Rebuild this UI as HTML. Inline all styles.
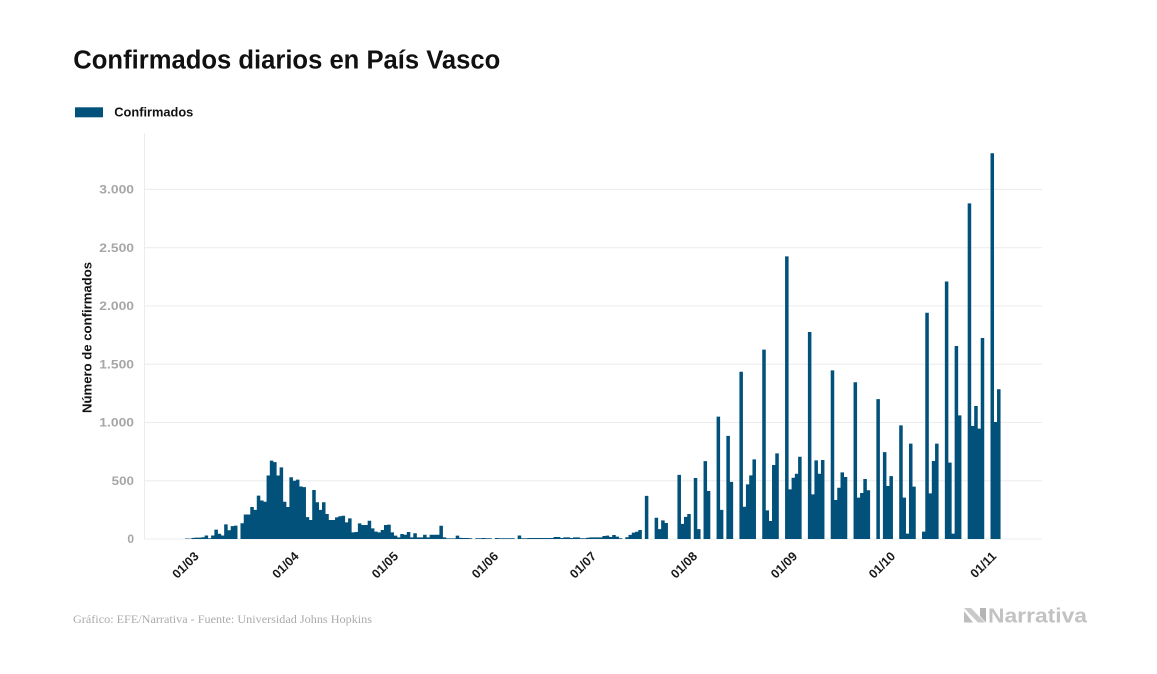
<!DOCTYPE html>
<html>
<head>
<meta charset="utf-8">
<style>
html,body{margin:0;padding:0;background:#fff;}
svg{display:block;}
</style>
</head>
<body>
<svg width="1157" height="674" viewBox="0 0 1157 674" xmlns="http://www.w3.org/2000/svg">
<rect x="0" y="0" width="1157" height="674" fill="#ffffff"/>
<text x="73.3" y="68.3" font-family="Liberation Sans, sans-serif" font-weight="bold" font-size="25.5" fill="#111" textLength="427" lengthAdjust="spacingAndGlyphs">Confirmados diarios en País Vasco</text>
<rect x="75" y="107.3" width="28" height="10" fill="#02517a"/>
<text x="114.3" y="116.3" font-family="Liberation Sans, sans-serif" font-weight="bold" font-size="12.5" fill="#111" textLength="79" lengthAdjust="spacingAndGlyphs">Confirmados</text>
<g stroke="#ececec" stroke-width="1">
<line x1="144" y1="189.4" x2="1042" y2="189.4"/>
<line x1="144" y1="247.7" x2="1042" y2="247.7"/>
<line x1="144" y1="305.9" x2="1042" y2="305.9"/>
<line x1="144" y1="364.2" x2="1042" y2="364.2"/>
<line x1="144" y1="422.5" x2="1042" y2="422.5"/>
<line x1="144" y1="480.7" x2="1042" y2="480.7"/>
<line x1="144" y1="539" x2="1042" y2="539"/>
<line x1="144.5" y1="133" x2="144.5" y2="539"/>
</g>
<g font-family="Liberation Sans, sans-serif" font-weight="bold" font-size="12" fill="#a6a6a6" text-anchor="end">
<text x="134" y="193.6" textLength="34.7" lengthAdjust="spacingAndGlyphs">3.000</text>
<text x="134" y="251.9" textLength="34.7" lengthAdjust="spacingAndGlyphs">2.500</text>
<text x="134" y="310.1" textLength="34.7" lengthAdjust="spacingAndGlyphs">2.000</text>
<text x="134" y="368.4" textLength="34.7" lengthAdjust="spacingAndGlyphs">1.500</text>
<text x="134" y="426.7" textLength="34.7" lengthAdjust="spacingAndGlyphs">1.000</text>
<text x="134" y="484.9" textLength="22.3" lengthAdjust="spacingAndGlyphs">500</text>
<text x="134" y="543.2">0</text>
</g>
<text transform="translate(91.5 337.5) rotate(-90)" text-anchor="middle" font-family="Liberation Sans, sans-serif" font-weight="bold" font-size="12.5" fill="#111" textLength="151" lengthAdjust="spacingAndGlyphs">Número de confirmados</text>
<g transform="translate(188.3 539) scale(3.261 -0.11653)" fill="#02517a">
<path d="M-1 0v4h1.08V0zM0 0v3h1.08V0zM1 0v10h1.08V0zM2 0v12h1.08V0zM3 0v12h1.08V0zM4 0v15h1.08V0zM5 0v30h1.08V0zM6 0v6h1.08V0zM7 0v30h1.08V0zM8 0v80h1.08V0zM9 0v45h1.08V0zM10 0v30h1.08V0zM11 0v125h1.08V0zM12 0v75h1.08V0zM13 0v110h1.08V0zM14 0v115h1.08V0zM16 0v135h1.08V0zM17 0v210h1.08V0zM18 0v210h1.08V0zM19 0v275h1.08V0zM20 0v250h1.08V0zM21 0v372h1.08V0zM22 0v330h1.08V0zM23 0v320h1.08V0zM24 0v545h1.08V0zM25 0v673h1.08V0zM26 0v660h1.08V0zM27 0v545h1.08V0zM28 0v615h1.08V0zM29 0v320h1.08V0zM30 0v275h1.08V0zM31 0v530h1.08V0zM32 0v500h1.08V0zM33 0v510h1.08V0zM34 0v450h1.08V0zM35 0v445h1.08V0zM36 0v188h1.08V0zM37 0v163h1.08V0zM38 0v420h1.08V0zM39 0v315h1.08V0zM40 0v250h1.08V0zM41 0v315h1.08V0zM42 0v215h1.08V0zM43 0v163h1.08V0zM44 0v163h1.08V0zM45 0v186h1.08V0zM46 0v195h1.08V0zM47 0v200h1.08V0zM48 0v143h1.08V0zM49 0v177h1.08V0zM50 0v57h1.08V0zM51 0v60h1.08V0zM52 0v134h1.08V0zM53 0v120h1.08V0zM54 0v120h1.08V0zM55 0v157h1.08V0zM56 0v91h1.08V0zM57 0v63h1.08V0zM58 0v57h1.08V0zM59 0v77h1.08V0zM60 0v120h1.08V0zM61 0v123h1.08V0zM62 0v57h1.08V0zM63 0v29h1.08V0zM64 0v14h1.08V0zM65 0v43h1.08V0zM66 0v37h1.08V0zM67 0v60h1.08V0zM68 0v14h1.08V0zM69 0v49h1.08V0zM70 0v14h1.08V0zM71 0v14h1.08V0zM72 0v37h1.08V0zM73 0v14h1.08V0zM74 0v37h1.08V0zM75 0v37h1.08V0zM76 0v37h1.08V0zM77 0v114h1.08V0zM78 0v14h1.08V0zM79 0v5h1.08V0zM80 0v5h1.08V0zM81 0v5h1.08V0zM82 0v29h1.08V0zM83 0v10h1.08V0zM84 0v9h2.08V0zM86 0v6h1.08V0zM88 0v6h2.08V0zM90 0v9h1.08V0zM91 0v6h2.08V0zM94 0v9h1.08V0zM95 0v6h5.08V0zM101 0v30h1.08V0zM102 0v6h2.08V0zM104 0v9h8.08V0zM112 0v17h2.08V0zM114 0v9h1.08V0zM115 0v14h2.08V0zM117 0v9h1.08V0zM118 0v14h2.08V0zM120 0v6h2.08V0zM122 0v11h1.08V0zM123 0v14h4.08V0zM127 0v26h1.08V0zM128 0v29h1.08V0zM129 0v17h1.08V0zM130 0v34h1.08V0zM131 0v20h1.08V0zM132 0v6h1.08V0zM134 0v15h1.08V0zM135 0v35h1.08V0zM136 0v55h1.08V0zM137 0v62h1.08V0zM138 0v77h1.08V0zM140 0v370h1.08V0zM143 0v182h1.08V0zM144 0v85h1.08V0zM145 0v160h1.08V0zM146 0v137h1.08V0zM150 0v550h1.08V0zM151 0v130h1.08V0zM152 0v190h1.08V0zM153 0v215h1.08V0zM155 0v524h1.08V0zM156 0v85h1.08V0zM158 0v668h1.08V0zM159 0v412h1.08V0zM162 0v1050h1.08V0zM163 0v250h1.08V0zM165 0v885h1.08V0zM166 0v490h1.08V0zM169 0v1435h1.08V0zM170 0v277h1.08V0zM171 0v469h1.08V0zM172 0v546h1.08V0zM173 0v683h1.08V0zM176 0v1625h1.08V0zM177 0v246h1.08V0zM178 0v154h1.08V0zM179 0v635h1.08V0zM180 0v735h1.08V0zM183 0v2425h1.08V0zM184 0v426h1.08V0zM185 0v526h1.08V0zM186 0v560h1.08V0zM187 0v706h1.08V0zM190 0v1776h1.08V0zM191 0v383h1.08V0zM192 0v675h1.08V0zM193 0v560h1.08V0zM194 0v678h1.08V0zM197 0v1447h1.08V0zM198 0v335h1.08V0zM199 0v440h1.08V0zM200 0v572h1.08V0zM201 0v532h1.08V0zM204 0v1345h1.08V0zM205 0v355h1.08V0zM206 0v395h1.08V0zM207 0v515h1.08V0zM208 0v418h1.08V0zM211 0v1200h1.08V0zM213 0v746h1.08V0zM214 0v455h1.08V0zM215 0v540h1.08V0zM218 0v975h1.08V0zM219 0v355h1.08V0zM220 0v46h1.08V0zM221 0v818h1.08V0zM222 0v449h1.08V0zM225 0v63h1.08V0zM226 0v1942h1.08V0zM227 0v392h1.08V0zM228 0v669h1.08V0zM229 0v818h1.08V0zM232 0v2210h1.08V0zM233 0v655h1.08V0zM234 0v46h1.08V0zM235 0v1656h1.08V0zM236 0v1061h1.08V0zM239 0v2880h1.08V0zM240 0v970h1.08V0zM241 0v1141h1.08V0zM242 0v947h1.08V0zM243 0v1725h1.08V0zM246 0v3310h1.08V0zM247 0v1004h1.08V0zM248 0v1285h1.08V0z"/>
</g>
<g font-family="Liberation Sans, sans-serif" font-weight="bold" font-size="12.5" fill="#1a1a1a" text-anchor="end">
<text transform="translate(199.5 557) rotate(-45)">01/03</text>
<text transform="translate(299.5 557) rotate(-45)">01/04</text>
<text transform="translate(399 557) rotate(-45)">01/05</text>
<text transform="translate(499 557) rotate(-45)">01/06</text>
<text transform="translate(597 557) rotate(-45)">01/07</text>
<text transform="translate(698 557) rotate(-45)">01/08</text>
<text transform="translate(798 557) rotate(-45)">01/09</text>
<text transform="translate(896 557) rotate(-45)">01/10</text>
<text transform="translate(997 557) rotate(-45)">01/11</text>
</g>
<text x="73" y="623" font-family="Liberation Serif, serif" font-size="12" fill="#ababab" textLength="299" lengthAdjust="spacingAndGlyphs">Gráfico: EFE/Narrativa - Fuente: Universidad Johns Hopkins</text>
<polygon points="964,608 971,608 985,622.5 978,622.5" fill="#c9c9c9"/>
<polygon points="964,611 964,622.5 973,622.5" fill="#bdbdbd"/>
<polygon points="980,608 986,608 986,622.5 983,619.5 980,616" fill="#b5b5b5"/>
<text x="988" y="622.5" font-family="Liberation Sans, sans-serif" font-weight="bold" font-size="20" fill="#c2c2c2" textLength="99" lengthAdjust="spacingAndGlyphs">Narrativa</text>
</svg>
</body>
</html>
